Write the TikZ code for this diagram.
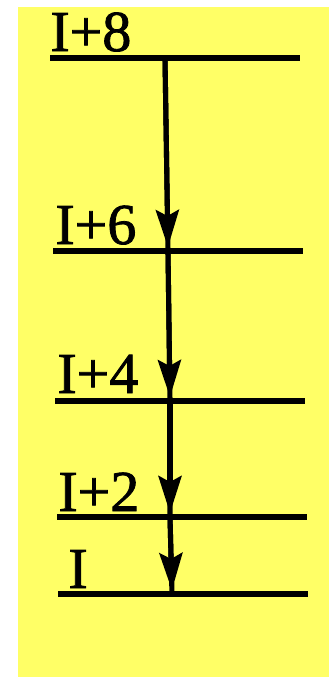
\documentclass[tikz,border=0pt]{standalone}
\usepackage{fontspec}
\setmainfont{Liberation Serif}
\newfontfamily\rotfont[FakeBold=1.4]{Liberation Serif}
\usetikzlibrary{arrows.meta}
\definecolor{fundo}{HTML}{FFFF66}

\begin{document}
\begin{tikzpicture}[x=0.02cm, y=-0.02cm,
    >={Stealth[length=0.74cm, width=0.46cm, inset=0.12cm]},
    nivel/.style={line width=3.8pt},
    haste/.style={line width=2.9pt},
    seta/.style={->, line width=2.9pt, shorten >=0.08cm},
    rotulo/.style={anchor=base west, inner sep=0pt, font=\rotfont\fontsize{33}{33}\selectfont}]

    % Moldura e fundo amarelo
    \useasboundingbox (0,0) rectangle (329,677);
    \fill[fundo] (18,7) rectangle (329,677);

    % Extremos de cada nivel
    \coordinate (N8e) at (50,58);  \coordinate (N8d) at (300,58);
    \coordinate (N6e) at (53,251); \coordinate (N6d) at (303,251);
    \coordinate (N4e) at (55,401); \coordinate (N4d) at (305,401);
    \coordinate (N2e) at (57,517); \coordinate (N2d) at (307,517);
    \coordinate (N0e) at (58,594); \coordinate (N0d) at (308,594);

    % Pontos da seta em cada nivel
    \coordinate (A8) at (165,58);
    \coordinate (A6) at (168,251);
    \coordinate (A4) at (170,401);
    \coordinate (A2) at (170,517);
    \coordinate (A0) at (172,594);

    % --- Niveis ---
    \draw[nivel] (N8e) -- (N8d);
    \draw[nivel] (N6e) -- (N6d);
    \draw[nivel] (N4e) -- (N4d);
    \draw[nivel] (N2e) -- (N2d);
    \draw[nivel] (N0e) -- (N0d);

    % --- Rotulos ---
    \node[rotulo] (r8) at (50,51)  {I+8};
    \node[rotulo] (r6) at (55,244) {I+6};
    \node[rotulo] (r4) at (57,393) {I+4};
    \node[rotulo] (r2) at (58,511) {I+2};
    \node[rotulo] (r0) at (68,588) {I};

    % --- Cascata de transicoes ---
    \draw[haste] (A8) -- (A6) -- (A4) -- (A2) -- (A0);
    \draw[seta] (A8) -- (A6);
    \draw[seta] (A6) -- (A4);
    \draw[seta] (A4) -- (A2);
    \draw[seta] (A2) -- (A0);

\end{tikzpicture}
\end{document}
